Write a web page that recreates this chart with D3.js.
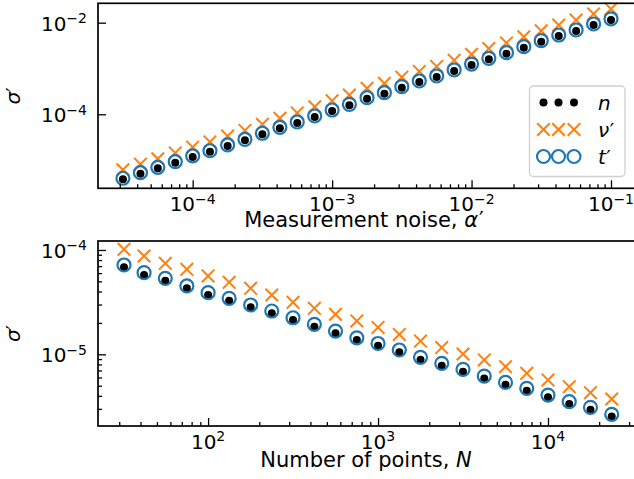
<!DOCTYPE html>
<html>
<head>
<meta charset="utf-8">
<script src="https://cdn.jsdelivr.net/npm/d3@7"></script>
<style>
  body { margin: 0; background: #fff; }
  svg { display: block; font-family: "DejaVu Sans", sans-serif; }
</style>
</head>
<body>
<svg id="chart" width="634" height="479"></svg>
<script>
// ---- data: top panel (sigma' vs measurement noise alpha') ----
const noiseAlpha = [3.16e-5, 4.22e-5, 5.62e-5, 7.50e-5, 1.00e-4, 1.33e-4, 1.78e-4, 2.37e-4,
  3.16e-4, 4.22e-4, 5.62e-4, 7.50e-4, 1.00e-3, 1.33e-3, 1.78e-3, 2.37e-3, 3.16e-3, 4.22e-3,
  5.62e-3, 7.50e-3, 1.00e-2, 1.33e-2, 1.78e-2, 2.37e-2, 3.16e-2, 4.22e-2, 5.62e-2, 7.50e-2, 1.00e-1];
const noiseN = [3.81e-6, 5.04e-6, 6.61e-6, 8.77e-6, 1.17e-5, 1.52e-5, 2.03e-5, 2.70e-5,
  3.66e-5, 4.94e-5, 6.45e-5, 8.72e-5, 1.18e-4, 1.57e-4, 2.19e-4, 2.81e-4, 3.81e-4, 5.06e-4,
  6.52e-4, 8.81e-4, 1.19e-3, 1.59e-3, 2.10e-3, 2.84e-3, 3.85e-3, 5.11e-3, 6.58e-3, 8.90e-3, 1.15e-2];
const noiseNu = [6.14e-6, 8.15e-6, 1.07e-5, 1.43e-5, 1.91e-5, 2.49e-5, 3.34e-5, 4.44e-5,
  6.04e-5, 8.19e-5, 1.07e-4, 1.46e-4, 1.97e-4, 2.63e-4, 3.68e-4, 4.75e-4, 6.46e-4, 8.61e-4,
  1.11e-3, 1.51e-3, 2.04e-3, 2.72e-3, 3.61e-3, 4.90e-3, 6.64e-3, 8.85e-3, 1.14e-2, 1.55e-2, 2.00e-2];
const noiseT = [4.01e-6, 5.31e-6, 6.96e-6, 9.23e-6, 1.23e-5, 1.60e-5, 2.14e-5, 2.84e-5,
  3.85e-5, 5.20e-5, 6.79e-5, 9.18e-5, 1.24e-4, 1.65e-4, 2.30e-4, 2.96e-4, 4.01e-4, 5.33e-4,
  6.86e-4, 9.27e-4, 1.25e-3, 1.67e-3, 2.21e-3, 2.99e-3, 4.05e-3, 5.38e-3, 6.93e-3, 9.37e-3, 1.21e-2];

// ---- data: bottom panel (sigma' vs number of points N) ----
const numPoints = [32, 42, 56, 75, 100, 133, 178, 237, 316, 422, 562, 750, 1000, 1334, 1778,
  2371, 3162, 4217, 5623, 7499, 10000, 13335, 17783, 23714];
const pointsN = [6.82e-5, 5.76e-5, 5.08e-5, 4.29e-5, 3.71e-5, 3.27e-5, 2.82e-5, 2.47e-5,
  2.13e-5, 1.84e-5, 1.59e-5, 1.37e-5, 1.21e-5, 1.045e-5, 8.88e-6, 7.78e-6, 6.81e-6, 5.88e-6,
  5.11e-6, 4.48e-6, 3.87e-6, 3.34e-6, 2.95e-6, 2.53e-6];
const pointsNu = [1.015e-4, 8.76e-5, 7.45e-5, 6.53e-5, 5.64e-5, 4.90e-5, 4.29e-5, 3.70e-5,
  3.15e-5, 2.76e-5, 2.42e-5, 2.09e-5, 1.81e-5, 1.55e-5, 1.34e-5, 1.16e-5, 1.007e-5, 8.83e-6,
  7.62e-6, 6.58e-6, 5.68e-6, 4.90e-6, 4.29e-6, 3.73e-6];
const pointsT = [7.18e-5, 6.06e-5, 5.35e-5, 4.52e-5, 3.90e-5, 3.44e-5, 2.97e-5, 2.60e-5,
  2.24e-5, 1.94e-5, 1.67e-5, 1.44e-5, 1.27e-5, 1.10e-5, 9.35e-6, 8.19e-6, 7.17e-6, 6.19e-6,
  5.38e-6, 4.72e-6, 4.07e-6, 3.52e-6, 3.10e-6, 2.66e-6];

// ---- tick values and labels ----
const topXTicks = [1e-4, 1e-3, 1e-2, 1e-1];
const topYTicks = [1e-4, 1e-2];
const botXTicks = [1e2, 1e3, 1e4];
const botYTicks = [1e-5, 1e-4];
const seriesNames = ["n", "ν", "t"];

const ORANGE = "#ff7f0e", BLUE = "#1f77b4";
const svg = d3.select("#chart");

function exponent(v) {
  const e = Math.round(Math.log10(v));
  return (e < 0 ? "\u2212" : "") + Math.abs(e);
}

// minor ticks at 2..9 x 10^e inside the scale domain
function minorTicks(scale) {
  const [a, b] = d3.extent(scale.domain());
  const out = [];
  for (let e = Math.floor(Math.log10(a)); e <= Math.ceil(Math.log10(b)); e++) {
    for (let k = 2; k <= 9; k++) {
      const v = k * Math.pow(10, e);
      if (v >= a && v <= b) out.push(v);
    }
  }
  return out;
}

// draws one marker set for each series
function drawMarkers(g, x, y, xs, ns, nus, ts) {
  g.append("g").selectAll("circle").data(xs).join("circle")
    .attr("cx", d => x(d)).attr("cy", (d, i) => y(ns[i]))
    .attr("r", 4).attr("fill", "#000");

  g.append("g").selectAll("path").data(xs).join("path")
    .attr("d", (d, i) => {
      const cx = x(d), cy = y(nus[i]), s = 6.3;
      return `M${cx - s},${cy - s}L${cx + s},${cy + s}M${cx - s},${cy + s}L${cx + s},${cy - s}`;
    })
    .attr("stroke", ORANGE).attr("stroke-width", 2).attr("fill", "none");

  g.append("g").selectAll("circle").data(xs).join("circle")
    .attr("cx", d => x(d)).attr("cy", (d, i) => y(ts[i]))
    .attr("r", 6.5).attr("fill", "none")
    .attr("stroke", BLUE).attr("stroke-width", 2.2);
}

function drawPanel(opt) {
  const { x, y, top, bottom, left, xTicks, yTicks, minorX, minorY } = opt;
  const g = svg.append("g");

  drawMarkers(g, x, y, opt.xs, opt.ns, opt.nus, opt.ts);

  // x axis ticks (inward)
  const xa = g.append("g").attr("transform", `translate(0,${bottom})`);
  xa.call(d3.axisBottom(x).tickValues(xTicks).tickSize(-8).tickSizeOuter(0).tickFormat(""));
  if (minorX) {
    xa.append("g").call(d3.axisBottom(x).tickValues(minorTicks(x)).tickSize(-4).tickSizeOuter(0).tickFormat(""));
  }
  // y axis ticks (inward)
  const ya = g.append("g").attr("transform", `translate(${left},0)`);
  ya.call(d3.axisLeft(y).tickValues(yTicks).tickSize(-8).tickSizeOuter(0).tickFormat(""));
  if (minorY) {
    ya.append("g").call(d3.axisLeft(y).tickValues(minorTicks(y)).tickSize(-4).tickSizeOuter(0).tickFormat(""));
  }
  g.selectAll(".domain").remove();
  g.selectAll(".tick line").attr("stroke", "#000").attr("stroke-width", 1.3);

  // spines (right one falls just off the canvas)
  g.append("rect").attr("x", left).attr("y", top)
    .attr("width", 640 - left).attr("height", bottom - top)
    .attr("fill", "none").attr("stroke", "#000").attr("stroke-width", 1.7);

  // tick labels: 10^e
  const xl = g.append("g").selectAll("text").data(xTicks).join("text")
    .attr("x", d => x(d)).attr("y", bottom + 23)
    .attr("text-anchor", "middle").attr("font-size", 20);
  xl.append("tspan").text("10");
  xl.append("tspan").attr("font-size", 14).attr("dy", -7.7).text(d => exponent(d));

  const yl = g.append("g").selectAll("text").data(yTicks).join("text")
    .attr("x", left - 11).attr("y", d => y(d) + 8)
    .attr("text-anchor", "end").attr("font-size", 20);
  yl.append("tspan").text("10");
  yl.append("tspan").attr("font-size", 14).attr("dy", -7.7).text(d => exponent(d));

  // axis labels
  const xt = g.append("text").attr("x", opt.labelCx).attr("y", opt.labelY)
    .attr("text-anchor", "middle").attr("font-size", 21);
  xt.append("tspan").text(opt.xLabel);
  xt.append("tspan").attr("font-style", "italic").text(opt.xVar);
  if (opt.xPrime) xt.append("tspan").attr("dx", 1).text("′");

  const yt = g.append("text")
    .attr("transform", `translate(20,${(top + bottom) / 2}) rotate(-90)`)
    .attr("text-anchor", "middle").attr("font-size", 20);
  yt.append("tspan").attr("font-style", "italic").text("σ");
  yt.append("tspan").text("′");
  return g;
}

// ---- top panel ----
const xTop = d3.scaleLog().domain([2.094e-5, 0.1462]).range([98, 634]);
const yTop = d3.scaleLog().domain([2.42e-6, 2.65e-2]).range([188.3, 3.3]);
drawPanel({
  x: xTop, y: yTop, top: 3.3, bottom: 188.3, left: 98,
  xTicks: topXTicks, yTicks: topYTicks, minorX: true, minorY: false,
  xs: noiseAlpha, ns: noiseN, nus: noiseNu, ts: noiseT,
  xLabel: "Measurement noise, ", xVar: "α", xPrime: true, labelCx: 364, labelY: 226.5
});

// legend
const lg = svg.append("g");
lg.append("rect").attr("x", 529.5).attr("y", 86).attr("width", 95.5).attr("height", 90.5)
  .attr("rx", 4).attr("fill", "#fff").attr("fill-opacity", 0.8)
  .attr("stroke", "#d0d0d0").attr("stroke-width", 1.3);
const rowY = d3.scalePoint().domain(seriesNames).range([102.5, 156.5]);
const handleX = [543.5, 558.5, 574];
handleX.forEach(hx => {
  lg.append("circle").attr("cx", hx).attr("cy", rowY("n")).attr("r", 4).attr("fill", "#000");
  const cy = rowY("ν"), s = 6.3;
  lg.append("path").attr("d", `M${hx - s},${cy - s}L${hx + s},${cy + s}M${hx - s},${cy + s}L${hx + s},${cy - s}`)
    .attr("stroke", ORANGE).attr("stroke-width", 2).attr("fill", "none");
  lg.append("circle").attr("cx", hx).attr("cy", rowY("t")).attr("r", 6.5)
    .attr("fill", "none").attr("stroke", BLUE).attr("stroke-width", 2.2);
});
const lt = lg.selectAll("text.lab").data(seriesNames).join("text").attr("class", "lab")
  .attr("x", 598).attr("y", d => rowY(d) + 7).attr("font-size", 20);
lt.append("tspan").attr("font-style", "italic").text(d => d);
lt.filter(d => d !== "n").append("tspan").attr("dx", 0.5).text("′");

// ---- bottom panel ----
const xBot = d3.scaleLog().domain([22.5, 32070]).range([98, 634]);
const yBot = d3.scaleLog().domain([2.056e-6, 1.219e-4]).range([426, 241]);
drawPanel({
  x: xBot, y: yBot, top: 241, bottom: 426, left: 98,
  xTicks: botXTicks, yTicks: botYTicks, minorX: true, minorY: true,
  xs: numPoints, ns: pointsN, nus: pointsNu, ts: pointsT,
  xLabel: "Number of points, ", xVar: "N", xPrime: false, labelCx: 366, labelY: 467.3
});
</script>
</body>
</html>
